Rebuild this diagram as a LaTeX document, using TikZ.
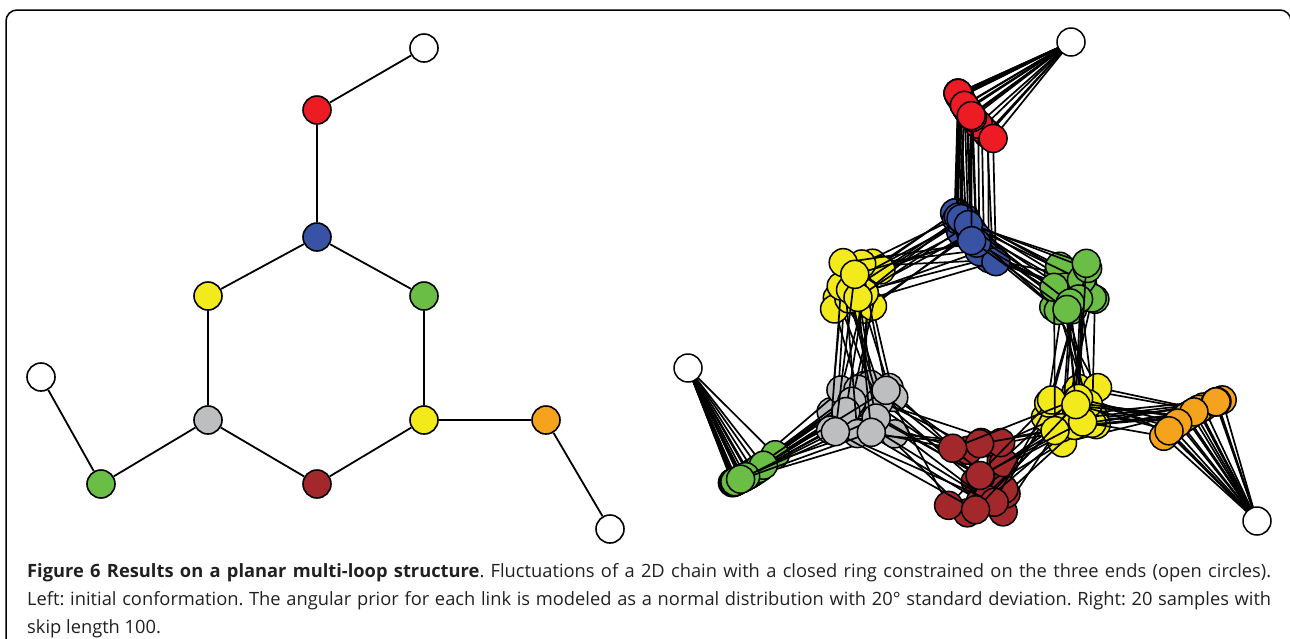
\documentclass[tikz,border=0pt]{standalone}
\usepackage{fontspec}
\setmainfont{Open Sans}
\usepackage{tikz}

\definecolor{cred}{HTML}{ED1C24}
\definecolor{cblue}{HTML}{3953A4}
\definecolor{cyellow}{HTML}{F2EA1B}
\definecolor{cgreen}{HTML}{6ABD45}
\definecolor{cgray}{HTML}{BCBEC0}
\definecolor{cdred}{HTML}{A3282B}
\definecolor{corange}{HTML}{F5A21C}
\definecolor{ctext}{HTML}{231F20}

\begin{document}
\frenchspacing
\begin{tikzpicture}[x=1pt, y=-1pt,
  bead/.style={circle, inner sep=0pt, draw, line width=1.6pt, minimum size=28pt},
  sbead/.style={circle, inner sep=0pt, draw, line width=1.5pt, minimum size=28pt},
  link/.style={line width=1.8pt},
  slink/.style={line width=1.7pt}]

  \useasboundingbox (0,0) rectangle (1290,638);
  \draw[line width=1.5pt, rounded corners=11pt] (6,680) -- (6,10) -- (1291,10) -- (1291,680);

  % initial conformation
  \node[bead, fill=white] (wt) at (424,48) {};
  \node[bead, fill=cred] (red) at (317,110) {};
  \node[bead, fill=cblue] (blue) at (317,237) {};
  \node[bead, fill=cyellow] (yul) at (208,296) {};
  \node[bead, fill=cgreen] (gur) at (424,296) {};
  \node[bead, fill=cgray] (gray) at (208,420) {};
  \node[bead, fill=cyellow] (ylr) at (424,420) {};
  \node[bead, fill=cdred] (dred) at (317,484) {};
  \node[bead, fill=cgreen] (gll) at (101,484) {};
  \node[bead, fill=white] (wl) at (41,377) {};
  \node[bead, fill=corange] (orng) at (546,420) {};
  \node[bead, fill=white] (wbr) at (610,529) {};

  \draw[link] (wt) -- (red) -- (blue) -- (yul) -- (gray) -- (dred) -- (ylr) -- (gur) -- (blue);
  \draw[link] (wl) -- (gll) -- (gray);
  \draw[link] (ylr) -- (orng) -- (wbr);

  % 20 samples
  \coordinate (WT) at (1071,42);
  \coordinate (WL) at (688,368);
  \coordinate (WBR) at (1257,521);

  \pgfmathsetseed{7}
  \foreach \s in {1,...,20}{
    \pgfmathsetmacro\ar{158-38*rnd*rnd}
    \pgfmathsetmacro\rx{1071+124*cos(\ar)}
    \pgfmathsetmacro\ry{42+124*sin(\ar)}
    \pgfmathsetmacro\ag{69-27*rnd*rnd}
    \pgfmathsetmacro\ao{221+33*rnd}
    \coordinate (R\s) at (\rx,\ry);
    \coordinate (B\s) at ({\rx+6*rand},{\ry+123+5*rand});
    \coordinate (YU\s) at ({855+26*rand},{283+28*rand});
    \coordinate (GU\s) at ({1080+30*rand},{288+26*rand});
    \coordinate (GR\s) at ({862+36*rand},{410+26*rand});
    \coordinate (YL\s) at ({1068+30*rand},{414+30*rand});
    \coordinate (DR\s) at ({975+32*rand},{478+36*rand});
    \coordinate (GL\s) at ({688+123*cos(\ag)},{368+123*sin(\ag)});
    \coordinate (OR\s) at ({1257+126*cos(\ao)},{521+126*sin(\ao)});

    \draw[slink] (WT) -- (R\s) -- (B\s) -- (YU\s) -- (GR\s) -- (DR\s) -- (YL\s) -- (GU\s) -- (B\s);
    \draw[slink] (WL) -- (GL\s) -- (GR\s);
    \draw[slink] (YL\s) -- (OR\s) -- (WBR);

    \node[sbead, fill=cred] (r\s) at (R\s) {};
    \node[sbead, fill=cblue] (b\s) at (B\s) {};
    \node[sbead, fill=cyellow] (yu\s) at (YU\s) {};
    \node[sbead, fill=cgreen] (gu\s) at (GU\s) {};
    \node[sbead, fill=cgray] (gr\s) at (GR\s) {};
    \node[sbead, fill=cyellow] (yl\s) at (YL\s) {};
    \node[sbead, fill=cdred] (dr\s) at (DR\s) {};
    \node[sbead, fill=cgreen] (gl\s) at (GL\s) {};
    \node[sbead, fill=corange] (or\s) at (OR\s) {};
  }

  \node[sbead, fill=white] (swt) at (WT) {};
  \node[sbead, fill=white] (swl) at (WL) {};
  \node[sbead, fill=white] (swbr) at (WBR) {};

  % caption
  \node[anchor=north west, align=justify, text width=1244pt, inner sep=0pt, text=ctext,
    font=\fontsize{18.3}{28}\selectfont] (cap) at (27,563)
  {\textbf{Figure 6 Results on a planar multi-loop structure}. Fluctuations of a 2D chain with a closed ring constrained on the three ends (open circles).\linebreak
   Left: initial conformation. The angular prior for each link is modeled as a normal distribution with 20° standard deviation. Right: 20 samples with\linebreak
   skip length 100.};

\end{tikzpicture}
\end{document}
